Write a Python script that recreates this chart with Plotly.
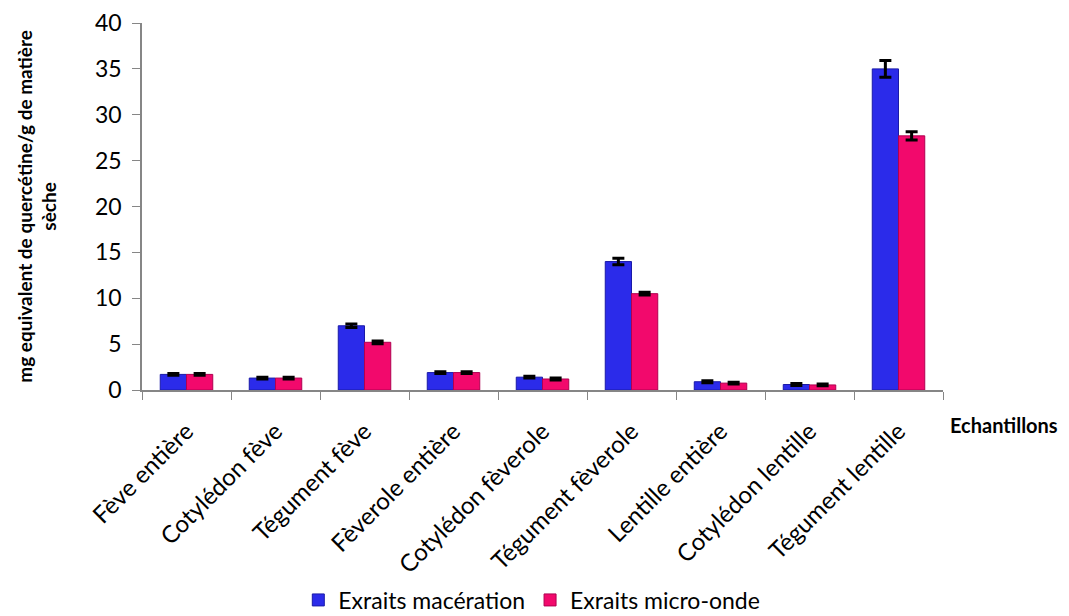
import plotly.graph_objects as go

categories = ["Fève entière", "Cotylédon fève", "Tégument fève", "Fèverole entière",
              "Cotylédon fèverole", "Tégument fèverole", "Lentille entière",
              "Cotylédon lentille", "Tégument lentille"]
maceration = [1.7, 1.3, 7.0, 1.9, 1.4, 14.0, 0.9, 0.6, 35.0]
maceration_err = [0.1, 0.1, 0.2, 0.1, 0.1, 0.35, 0.1, 0.1, 0.9]
micro_onde = [1.7, 1.3, 5.2, 1.9, 1.2, 10.5, 0.75, 0.55, 27.7]
micro_onde_err = [0.1, 0.1, 0.15, 0.1, 0.1, 0.15, 0.1, 0.1, 0.45]
yticks = [0, 5, 10, 15, 20, 25, 30, 35, 40]

FONT = "Lato, Open Sans, sans-serif"

fig = go.Figure()
fig.add_trace(go.Bar(
    x=categories, y=maceration, name="Exraits macération",
    marker=dict(color="#2B2BEA", line=dict(color="#1A1AA8", width=1)),
    error_y=dict(type="data", array=maceration_err, color="black", thickness=3, width=6),
))
fig.add_trace(go.Bar(
    x=categories, y=micro_onde, name="Exraits micro-onde",
    marker=dict(color="#F2096C", line=dict(color="#B00050", width=1)),
    error_y=dict(type="data", array=micro_onde_err, color="black", thickness=3, width=6),
))

fig.update_layout(
    width=1069, height=616,
    margin=dict(l=134, r=134, t=15, b=234, autoexpand=False),
    paper_bgcolor="white", plot_bgcolor="white",
    barmode="group", bargap=0.41, bargroupgap=0,
    font=dict(family=FONT, size=22, color="black"),
    showlegend=True,
    legend=dict(orientation="h", xref="container", yref="container",
                x=0.490, xanchor="center", y=0.039, yanchor="middle",
                font=dict(size=23), itemwidth=30, tracegroupgap=0),
    xaxis=dict(
        type="category", tickangle=-45, showline=True, linecolor="#868686", linewidth=1.5,
        ticks="outside", tickson="boundaries", ticklen=8, tickcolor="#868686",
        showgrid=False, tickfont=dict(size=24), automargin=False, ticklabelstandoff=16,
    ),
    yaxis=dict(
        range=[0, 40], tickvals=yticks, showline=True, linecolor="#868686", linewidth=1.5,
        ticks="outside", ticklen=8, tickcolor="#868686", showgrid=False, zeroline=False,
        tickfont=dict(size=23), automargin=False, ticklabelstandoff=6,
    ),
    annotations=[
        dict(text="<b>mg equivalent de quercétine/g de matière<br>sèche</b>",
             textangle=-90, xref="paper", yref="paper", x=-0.132, y=0.5,
             xanchor="center", yanchor="middle", showarrow=False, font=dict(size=19)),
        dict(text="<b>Echantillons</b>", xref="paper", yref="paper", x=1.076, y=-0.095,
             xanchor="center", yanchor="middle", showarrow=False, font=dict(size=20)),
    ],
)

fig.write_html("out.html")
